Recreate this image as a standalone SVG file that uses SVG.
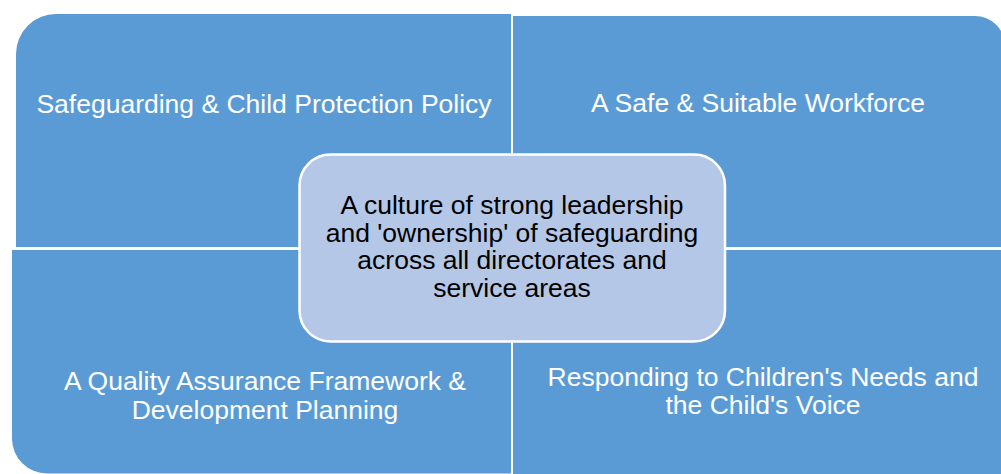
<svg xmlns="http://www.w3.org/2000/svg" width="1001" height="474" viewBox="0 0 1001 474">
<style>
.q{fill:#5B9BD5;}
.qt{font-family:"Liberation Sans",Arial,sans-serif;font-size:26.5px;fill:#FFFFFF;text-anchor:middle;}
.ct{font-family:"Liberation Sans",Arial,sans-serif;font-size:26.5px;fill:#000000;text-anchor:middle;}
.c{fill:#B4C7E7;stroke:#FFFFFF;stroke-width:2.5;}
</style>
<rect x="0" y="0" width="1001" height="474" fill="#FFFFFF"/>
<g id="node-policy">
<path class="q" d="M16,54 A40,40 0 0 1 56,14 H511 V247 H16 Z"/>
<text class="qt" x="264" y="113">Safeguarding &amp; Child Protection Policy</text>
</g>
<g id="node-workforce">
<path class="q" d="M513,16 H975 A30,30 0 0 1 1005,46 V247 H513 Z"/>
<text class="qt" x="758" y="112">A Safe &amp; Suitable Workforce</text>
</g>
<g id="node-quality">
<path class="q" d="M12,250 H511 V473.5 H47 A35,35 0 0 1 12,438.5 Z"/>
<text class="qt" x="265" y="390">A Quality Assurance Framework &amp;</text>
<text class="qt" x="265" y="419">Development Planning</text>
</g>
<g id="node-children">
<path class="q" d="M513,250 H1010 V476 H513 Z"/>
<text class="qt" x="763" y="385.5">Responding to Children's Needs and</text>
<text class="qt" x="763" y="413.5">the Child's Voice</text>
</g>
<g id="node-culture">
<rect class="c" x="299.5" y="154.5" width="425.5" height="187" rx="31" ry="31"/>
<text class="ct" x="512" y="214">A culture of strong leadership</text>
<text class="ct" x="512" y="241.7">and 'ownership' of safeguarding</text>
<text class="ct" x="512" y="269.3">across all directorates and</text>
<text class="ct" x="512" y="296.7">service areas</text>
</g>
<g id="connectors"></g>
</svg>
